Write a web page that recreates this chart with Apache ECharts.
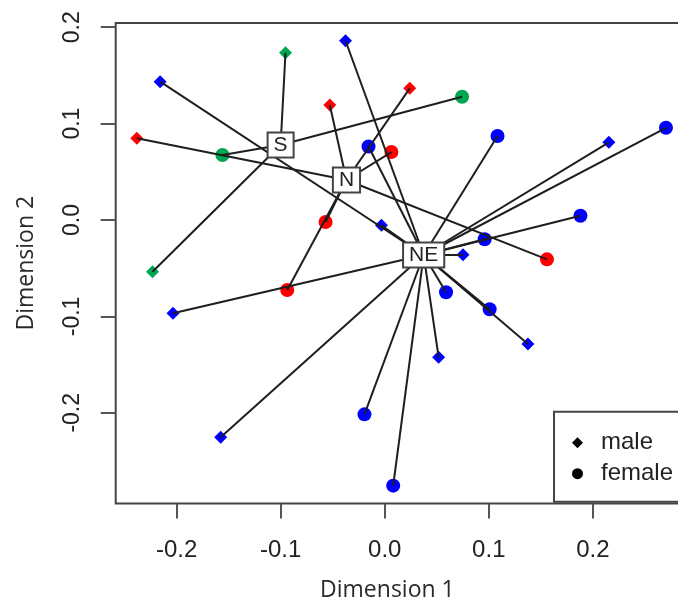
<!DOCTYPE html>
<html><head><meta charset="utf-8">
<script src="https://cdn.jsdelivr.net/npm/echarts@6.0.0/dist/echarts.min.js"></script>
<style>html,body{margin:0;padding:0;background:#fff}#chart{width:678px;height:606px}</style>
</head><body><div id="chart"></div>
<script>
// ---- data ----
const groupNames = ['S', 'N', 'NE'];
const groupColors = ['#00A650', '#FF0000', '#0000FF'];
const centroidX = [-0.1001, -0.0368, 0.0374];
const centroidY = [0.0778, 0.0415, -0.0363];

const pointX = [
  -0.0954, -0.1560, 0.0743, -0.2232,
  -0.2383, -0.0528, 0.0240, 0.0064, -0.0569, -0.0937, 0.1559,
  -0.2159, -0.0377, -0.0156, -0.0032, 0.1084, 0.2154, 0.2703, 0.1881, 0.0960,
  0.0752, 0.0589, 0.1008, 0.1376, 0.0518, 0.0081, -0.0195, -0.1577, -0.2035
];
const pointY = [
  0.1736, 0.0674, 0.1279, -0.0536,
  0.0848, 0.1193, 0.1366, 0.0705, -0.0021, -0.0726, -0.0408,
  0.1435, 0.1860, 0.0762, -0.0055, 0.0871, 0.0806, 0.0957, 0.0045, -0.0199,
  -0.0361, -0.0750, -0.0926, -0.1286, -0.1424, -0.2756, -0.2016, -0.2254, -0.0968
];
const pointSex = [
  'male', 'female', 'female', 'male',
  'male', 'male', 'male', 'female', 'female', 'female', 'female',
  'male', 'male', 'female', 'male', 'female', 'male', 'female', 'female', 'female',
  'male', 'female', 'female', 'male', 'male', 'female', 'female', 'male', 'male'
];
const pointGroup = [
  0, 0, 0, 0,
  1, 1, 1, 1, 1, 1, 1,
  2, 2, 2, 2, 2, 2, 2, 2, 2, 2, 2, 2, 2, 2, 2, 2, 2, 2
];
const sexLabels = ['male', 'female'];
const xTicks = [-0.2, -0.1, 0.0, 0.1, 0.2];
const yTicks = [-0.2, -0.1, 0.0, 0.1, 0.2];
const xRange = [-0.2586, 0.2906];
const yRange = [-0.2941, 0.2045];

// ---- build ----
function pointsOf(sex) {
  const out = [];
  for (let i = 0; i < pointX.length; i++) {
    if (pointSex[i] === sex) {
      out.push({ value: [pointX[i], pointY[i]], itemStyle: { color: groupColors[pointGroup[i]] } });
    }
  }
  return out;
}
const spokes = pointX.map((x, i) => ({
  coords: [[x, pointY[i]], [centroidX[pointGroup[i]], centroidY[pointGroup[i]]]]
}));
const centroids = groupNames.map((n, g) => ({ name: n, value: [centroidX[g], centroidY[g]] }));

const tickFont = 'Liberation Sans, Arial, sans-serif';
const titleFont = 'Open Sans, Noto Sans, sans-serif';

const chart = echarts.init(document.getElementById('chart'), null, { renderer: 'canvas' });
chart.setOption({
  animation: false,
  backgroundColor: '#fff',
  grid: {
    left: 115.7, top: 22.9, width: 571.4, height: 480.6,
    show: true, borderColor: '#444', borderWidth: 2, backgroundColor: 'transparent',
    containLabel: false, outerBoundsMode: 'none'
  },
  xAxis: {
    type: 'value', min: xRange[0], max: xRange[1],
    name: 'Dimension 1', nameLocation: 'middle', nameGap: 75,
    nameTextStyle: { fontFamily: titleFont, fontSize: 23, color: '#2a2a2a', padding: [0, 28, 0, 0] },
    axisLine: { show: false, onZero: false },
    splitLine: { show: false },
    axisTick: { show: true, length: 15, customValues: xTicks, lineStyle: { color: '#555', width: 2 } },
    axisLabel: { customValues: xTicks, margin: 35, fontFamily: tickFont, fontSize: 24, color: '#222',
      formatter: v => v.toFixed(1) }
  },
  yAxis: {
    type: 'value', min: yRange[0], max: yRange[1],
    name: 'Dimension 2', nameLocation: 'middle', nameGap: 78, nameRotate: 90,
    nameTextStyle: { fontFamily: titleFont, fontSize: 23, color: '#2a2a2a' },
    axisLine: { show: false, onZero: false },
    splitLine: { show: false },
    axisTick: { show: true, length: 15, customValues: yTicks, lineStyle: { color: '#555', width: 2 } },
    axisLabel: { customValues: yTicks, rotate: 90, margin: 32, fontFamily: tickFont, fontSize: 23, color: '#222',
      formatter: v => v.toFixed(1) }
  },
  legend: {
    orient: 'vertical', left: 554, top: 411.7,
    padding: [19, 14, 16, 18], itemGap: 7, itemWidth: 11, itemHeight: 11,
    borderColor: '#444', borderWidth: 2, backgroundColor: '#fff', borderRadius: 0,
    selectedMode: false,
    textStyle: { fontFamily: tickFont, fontSize: 24, color: '#222', padding: [0, 0, 0, 13] },
    data: [
      { name: sexLabels[0], icon: 'diamond', itemStyle: { color: '#000' } },
      { name: sexLabels[1], icon: 'circle', itemStyle: { color: '#000' } }
    ]
  },
  series: [
    { name: sexLabels[0], type: 'scatter', symbol: 'diamond', symbolSize: 13, z: 2,
      itemStyle: { opacity: 1 }, data: pointsOf('male') },
    { name: sexLabels[1], type: 'scatter', symbol: 'circle', symbolSize: 14, z: 2,
      itemStyle: { opacity: 1 }, data: pointsOf('female') },
    { type: 'lines', coordinateSystem: 'cartesian2d', z: 3, silent: true,
      lineStyle: { color: '#1e1e1e', width: 2, opacity: 1 }, data: spokes },
    { type: 'scatter', z: 4, symbolSize: 1, itemStyle: { color: 'rgba(0,0,0,0)', opacity: 1 }, silent: true,
      label: { show: true, position: 'inside', formatter: p => p.name, fontFamily: tickFont, fontSize: 21,
        color: '#222', backgroundColor: '#fff', borderColor: '#444', borderWidth: 2, padding: [1, 5, 1, 5] },
      data: centroids }
  ]
});
</script></body></html>
